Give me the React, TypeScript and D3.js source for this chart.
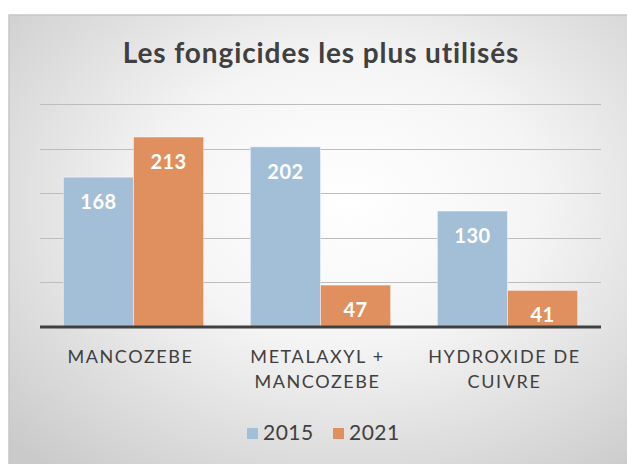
import React from 'react';
import * as d3 from 'd3';

const categories = [['MANCOZEBE'], ['METALAXYL +', 'MANCOZEBE'], ['HYDROXIDE DE', 'CUIVRE']];
const series = ['2015', '2021'];
const values2015 = [168, 202, 130];
const values2021 = [213, 47, 41];
const yTicks = [0, 50, 100, 150, 200, 250];

const colors: Record<string, string> = { '2015': '#a3bfd8', '2021': '#e0905f' };

export default function App() {
  const width = 627;
  const height = 464;
  const margin = { left: 40, right: 26, top: 104, bottom: 137 };
  const plotBottom = height - margin.bottom;

  const x = d3.scaleBand<number>()
    .domain(categories.map((_, i) => i))
    .range([margin.left, width - margin.right])
    .paddingInner(0.25)
    .paddingOuter(0.125);

  const xs = d3.scaleBand<string>()
    .domain(series)
    .range([0, x.bandwidth()]);

  const y = d3.scaleLinear().domain([0, 250]).range([plotBottom, margin.top]);

  const rows = categories.map((c, i) => ({ i, c, v: [values2015[i], values2021[i]] }));

  return (
    <div style={{ position: 'absolute', left: 0, top: 0 }}>
      <svg width={width} height={height} style={{ display: 'block', fontFamily: 'Lato, sans-serif' }}>
        <defs>
          <radialGradient id="bg" cx="0.54" cy="0.4" r="0.75">
            <stop offset="0" stopColor="#ffffff" />
            <stop offset="0.4" stopColor="#f5f5f5" />
            <stop offset="1" stopColor="#cacaca" />
          </radialGradient>
        </defs>
        <rect x={0} y={0} width={width} height={height} fill="#ffffff" />
        <rect x={9} y={15} width={width} height={height} fill="url(#bg)" stroke="#c6c6c6" strokeWidth={1.5} />

        <text x={321} y={63} textAnchor="middle" fontSize={28} fontWeight={700} fill="#404040" letterSpacing={0.9}>
          Les fongicides les plus utilisés
        </text>

        {/* grid */}
        {yTicks.slice(1).map(t => (
          <line key={t} x1={margin.left} x2={width - margin.right} y1={Math.round(y(t)) + 0.5} y2={Math.round(y(t)) + 0.5}
            stroke="#bdbdbd" strokeWidth={1} />
        ))}

        {/* bars */}
        {rows.map(r => (
          <g key={r.i} transform={`translate(${x(r.i)},0)`}>
            {series.map((s, k) => (
              <g key={s}>
                <rect x={xs(s)} y={y(r.v[k])} width={xs.bandwidth()} height={plotBottom - y(r.v[k])}
                  fill={colors[s]} stroke="rgba(255,255,255,0.45)" strokeWidth={1} />
                <text x={xs(s)! + xs.bandwidth() / 2} y={y(r.v[k]) + 32} textAnchor="middle"
                  fontSize={20} fontWeight={700} fill="#ffffff" letterSpacing={0.5}>{r.v[k]}</text>
              </g>
            ))}
          </g>
        ))}

        <line x1={margin.left} x2={width - margin.right} y1={plotBottom} y2={plotBottom} stroke="#404040" strokeWidth={3} />

        {/* category labels */}
        {rows.map(r => (
          <text key={r.i} textAnchor="middle" fontSize={18} fill="#404040" letterSpacing={1.6}>
            {r.c.map((line, j) => (
              <tspan key={j} x={x(r.i)! + x.bandwidth() / 2 - 3} y={363 + j * 25}>{line}</tspan>
            ))}
          </text>
        ))}

        {/* legend */}
        <g>
          <rect x={247} y={428} width={11} height={11} fill={colors['2015']} />
          <text x={263} y={440} fontSize={21} fill="#404040" letterSpacing={0.5}>2015</text>
          <rect x={333} y={428} width={11} height={11} fill={colors['2021']} />
          <text x={349} y={440} fontSize={21} fill="#404040" letterSpacing={0.5}>2021</text>
        </g>
      </svg>
    </div>
  );
}
